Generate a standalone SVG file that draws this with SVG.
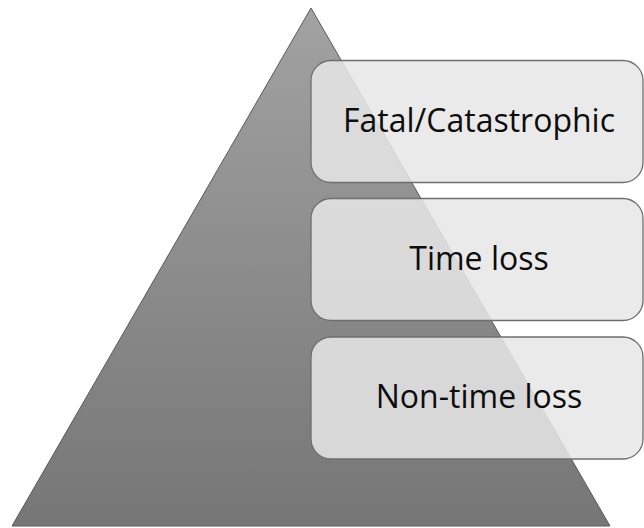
<svg xmlns="http://www.w3.org/2000/svg" width="644" height="528" viewBox="0 0 644 528">
<defs>
<linearGradient id="g" x1="0" y1="0" x2="0" y2="1">
<stop offset="0" stop-color="#a2a2a2"/>
<stop offset="1" stop-color="#767676"/>
</linearGradient>
<style>
.box{fill:#e6e6e6;fill-opacity:0.86;stroke:#6e6e6e;stroke-width:1.3}
.lbl{font-family:"Open Sans","Liberation Sans",sans-serif;font-size:32px;fill:#0d0d0d;text-anchor:middle}
</style>
</defs>
<g id="pyramid">
<polygon points="311,8 12,526 610,526" fill="url(#g)" stroke="#5a5a5a" stroke-width="1"/>
</g>
<g id="connectors"></g>
<g id="n1">
<rect class="box" x="311" y="60.5" width="332" height="122" rx="20"/>
<text class="lbl" x="479" y="132">Fatal/Catastrophic</text>
</g>
<g id="n2">
<rect class="box" x="311" y="198.5" width="332" height="122" rx="20"/>
<text class="lbl" x="479" y="270">Time loss</text>
</g>
<g id="n3">
<rect class="box" x="311" y="337" width="332" height="122" rx="20"/>
<text class="lbl" x="479" y="408">Non-time loss</text>
</g>
</svg>
